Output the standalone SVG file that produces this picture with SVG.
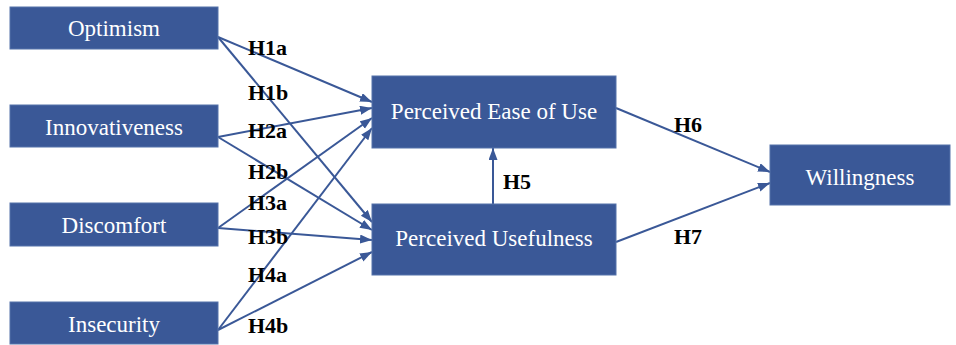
<svg xmlns="http://www.w3.org/2000/svg" width="956" height="345" viewBox="0 0 956 345">
<style>
.box{fill:#3a5897;stroke:#5572aa;stroke-width:1}
.bt{font-family:"Liberation Serif","Times New Roman",serif;font-size:23px;fill:#ffffff;text-anchor:middle}
.lb{font-family:"Liberation Serif","Times New Roman",serif;font-size:22px;font-weight:bold;fill:#000000}
.cn{stroke:#3a5897;stroke-width:2;fill:none;marker-end:url(#ah)}
</style>
<defs>
<marker id="ah" markerUnits="userSpaceOnUse" markerWidth="13" markerHeight="10" refX="12" refY="4.5" orient="auto">
<path d="M0,0 L12,4.5 L0,9 z" fill="#3a5897"/>
</marker>
</defs>
<rect width="956" height="345" fill="#ffffff"/>
<g id="connectors">
<line class="cn" x1="218" y1="37" x2="372" y2="102"/>
<line class="cn" x1="218" y1="37" x2="372" y2="222"/>
<line class="cn" x1="218" y1="137" x2="372" y2="108"/>
<line class="cn" x1="218" y1="137" x2="372" y2="230"/>
<line class="cn" x1="218" y1="228" x2="372" y2="118"/>
<line class="cn" x1="218" y1="228" x2="372" y2="240"/>
<line class="cn" x1="218" y1="330" x2="372" y2="128"/>
<line class="cn" x1="218" y1="330" x2="372" y2="252"/>
<line class="cn" x1="493" y1="204" x2="493" y2="148"/>
<line class="cn" x1="616" y1="108" x2="770" y2="172"/>
<line class="cn" x1="616" y1="242" x2="770" y2="183"/>
</g>
<g id="labels">
<text class="lb" x="248" y="55">H1a</text>
<text class="lb" x="248" y="100">H1b</text>
<text class="lb" x="248" y="138">H2a</text>
<text class="lb" x="248" y="179">H2b</text>
<text class="lb" x="248" y="210">H3a</text>
<text class="lb" x="248" y="244">H3b</text>
<text class="lb" x="248" y="282">H4a</text>
<text class="lb" x="248" y="333">H4b</text>
<text class="lb" x="503" y="189">H5</text>
<text class="lb" x="674" y="132">H6</text>
<text class="lb" x="674" y="244">H7</text>
</g>
<g id="optimism"><rect class="box" x="10" y="7" width="208" height="42"/><text class="bt" x="114" y="36">Optimism</text></g>
<g id="innovativeness"><rect class="box" x="10" y="105" width="208" height="42"/><text class="bt" x="114" y="135">Innovativeness</text></g>
<g id="discomfort"><rect class="box" x="10" y="203" width="208" height="43"/><text class="bt" x="114" y="233">Discomfort</text></g>
<g id="insecurity"><rect class="box" x="10" y="302" width="208" height="42"/><text class="bt" x="114" y="332">Insecurity</text></g>
<g id="peou"><rect class="box" x="372" y="76" width="244" height="72"/><text class="bt" x="494" y="119">Perceived Ease of Use</text></g>
<g id="pu"><rect class="box" x="372" y="204" width="244" height="71"/><text class="bt" x="494" y="246">Perceived Usefulness</text></g>
<g id="willingness"><rect class="box" x="770" y="145" width="180" height="60"/><text class="bt" x="860" y="185">Willingness</text></g>
</svg>
